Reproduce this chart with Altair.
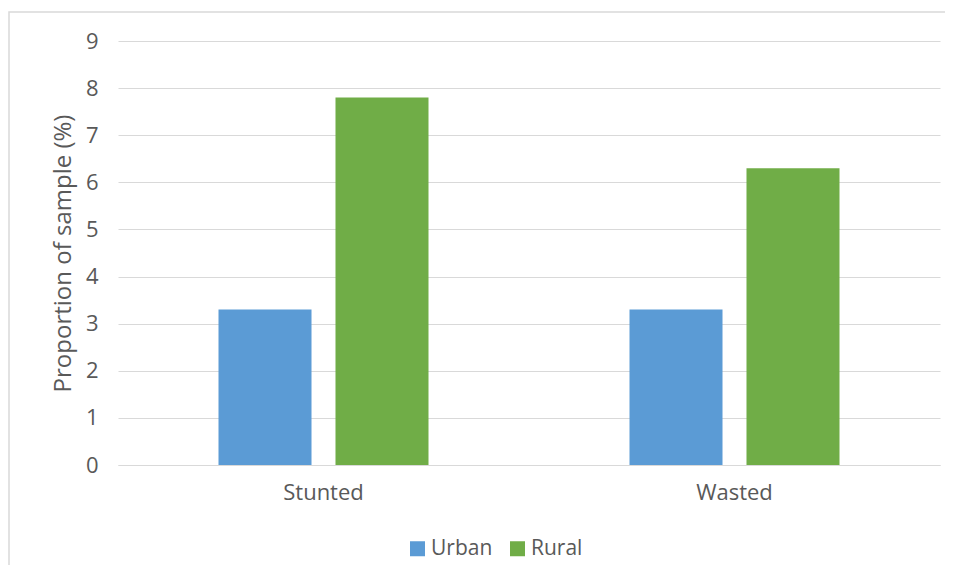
import altair as alt
import pandas as pd

categories = ["Stunted", "Wasted"]
groups = ["Urban", "Rural"]
urban_values = [3.3, 3.3]
rural_values = [7.8, 6.3]
colors = ["#5B9BD5", "#70AD47"]
y_ticks = [0, 1, 2, 3, 4, 5, 6, 7, 8, 9]

rows = []
for i, c in enumerate(categories):
    rows.append({"category": c, "group": "Urban", "value": urban_values[i]})
    rows.append({"category": c, "group": "Rural", "value": rural_values[i]})
df = pd.DataFrame(rows)

FONT = "Open Sans"
GREY = "#595959"

border = alt.Chart(pd.DataFrame({"a": [0]})).mark_rect(
    fillOpacity=0, stroke="#d9d9d9", strokeWidth=1.5
).encode(
    x=alt.value(-109), x2=alt.value(850), y=alt.value(-29), y2=alt.value(580)
)

bars = alt.Chart(df).mark_bar().encode(
    x=alt.X("category:N", sort=categories,
            scale=alt.Scale(paddingInner=0, paddingOuter=0),
            axis=alt.Axis(title=None, labelAngle=0, ticks=False, domain=True,
                          domainColor="#d9d9d9", domainWidth=1.2, labelFontSize=22,
                          labelColor=GREY, labelFont=FONT, labelPadding=17)),
    xOffset=alt.XOffset("group:N", sort=groups,
                        scale=alt.Scale(paddingInner=0.205, paddingOuter=0.859)),
    y=alt.Y("value:Q", scale=alt.Scale(domain=[0, 9], nice=False),
            axis=alt.Axis(title="Proportion of sample (%)", values=y_ticks,
                          ticks=False, domain=False, gridColor="#d9d9d9",
                          gridWidth=1.2, labelFontSize=22, labelColor=GREY,
                          labelFont=FONT, labelPadding=20, titleFontSize=24,
                          titleFont=FONT, titleColor=GREY, titleFontWeight="normal",
                          titlePadding=10)),
    color=alt.Color("group:N", sort=groups,
                    scale=alt.Scale(domain=groups, range=colors),
                    legend=alt.Legend(title=None, orient="none", direction="horizontal",
                                      legendX=289, legendY=497, symbolType="square",
                                      symbolSize=225, symbolStrokeWidth=0,
                                      labelFontSize=21, labelColor=GREY,
                                      labelFont=FONT, columnPadding=14,
                                      labelOffset=3)),
)

chart = alt.layer(border, bars).properties(
    width=822, height=424,
    padding={"left": 110, "top": 33, "right": 5, "bottom": 100},
    autosize=alt.AutoSizeParams(type="none"),
).configure_view(stroke=None)

chart.save("out.html", embed_options={"renderer": "svg", "actions": False})
